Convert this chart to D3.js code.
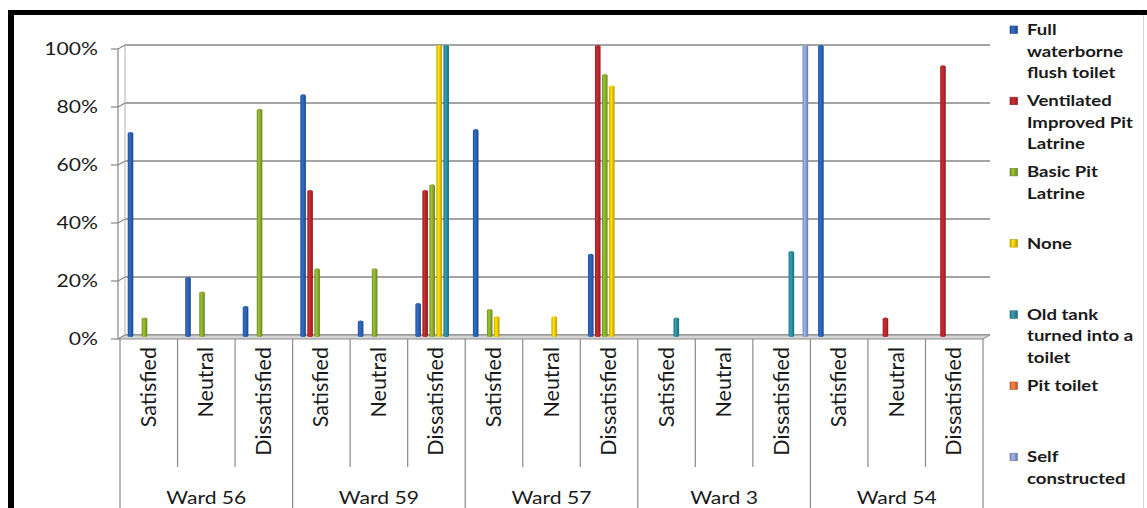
<!DOCTYPE html>
<html><head><meta charset="utf-8">
<script src="https://cdn.jsdelivr.net/npm/d3@7"></script>
<style>
html,body{margin:0;padding:0;background:#fff;}
svg{display:block;}
text{font-family:Lato,"Open Sans",sans-serif;fill:#1a1a1a;}
</style></head><body>
<svg id="c" width="1147" height="508"></svg>
<script>
// ---- data ----
const wards = ["Ward 56","Ward 59","Ward 57","Ward 3","Ward 54"];
const levels = ["Satisfied","Neutral","Dissatisfied"];
const seriesNames = ["Full waterborne flush toilet","Ventilated Improved Pit Latrine","Basic Pit Latrine","None","Old tank turned into a toilet","Pit toilet","Self constructed"];
const legendLines = [["Full","waterborne","flush toilet"],["Ventilated","Improved Pit","Latrine"],["Basic Pit","Latrine"],["None"],["Old tank","turned into a","toilet"],["Pit toilet"],["Self","constructed"]];
const seriesColors = ["#2a60b4","#b8262b","#8aad2c","#f3c900","#2a8c9f","#e8743a","#8c9fd3"];
// values (fraction) per category: 15 categories (ward x level), 7 series
const fullWaterborne = [0.70,0.20,0.10, 0.83,0.05,0.11, 0.71,0,0.28, 0,0,0, 1.00,0,0];
const vipLatrine     = [0,0,0, 0.50,0,0.50, 0,0,1.00, 0,0,0, 0,0.06,0.93];
const basicPit       = [0.06,0.15,0.78, 0.23,0.23,0.52, 0.09,0,0.90, 0,0,0, 0,0,0];
const noneToilet     = [0,0,0, 0,0,1.00, 0.065,0.065,0.86, 0,0,0, 0,0,0];
const oldTank        = [0,0,0, 0,0,1.00, 0,0,0, 0.06,0,0.29, 0,0,0];
const pitToilet      = [0,0,0, 0,0,0, 0,0,0, 0,0,0, 0,0,0];
const selfBuilt      = [0,0,0, 0,0,0, 0,0,0, 0,0,1.00, 0,0,0];
const seriesValues = [fullWaterborne,vipLatrine,basicPit,noneToilet,oldTank,pitToilet,selfBuilt];
const yTicks = [0,0.2,0.4,0.6,0.8,1.0];

// ---- layout ----
const svg = d3.select("#c");
const SX = 1.28; // horizontal stretch of the original picture's text
const cats = [];
wards.forEach(w=>levels.forEach(l=>cats.push(w+"|"+l)));
const x0 = d3.scaleBand().domain(cats).range([120,983]);
const x1 = d3.scaleBand().domain(d3.range(seriesNames.length)).range([7,56]).paddingInner(0.2).paddingOuter(0.1);
const y = d3.scaleLinear().domain([0,1]).range([335,45]);
const dx = 7, dy = 4; // 3d offset back wall vs front

const defs = svg.append("defs");
seriesColors.forEach((c,i)=>{
  const g = defs.append("linearGradient").attr("id","g"+i).attr("x1","0").attr("x2","1").attr("y1","0").attr("y2","0");
  const col = d3.color(c);
  g.append("stop").attr("offset","0").attr("stop-color",col.darker(0.6));
  g.append("stop").attr("offset","0.35").attr("stop-color",col.brighter(0.35));
  g.append("stop").attr("offset","0.6").attr("stop-color",col);
  g.append("stop").attr("offset","1").attr("stop-color",col.darker(0.8));
});

// frame
svg.append("rect").attr("x",8).attr("y",10).attr("width",1139).attr("height",5).attr("fill","#000");
svg.append("rect").attr("x",8).attr("y",10).attr("width",6).attr("height",498).attr("fill","#000");
svg.append("line").attr("x1",1143.5).attr("x2",1143.5).attr("y1",15).attr("y2",508).attr("stroke","#d8d8d8");

// gridlines on back wall
const gridG = svg.append("g");
yTicks.forEach(t=>{
  const yb = y(t);
  gridG.append("line").attr("x1",118+dx).attr("x2",990).attr("y1",yb).attr("y2",yb).attr("stroke","#868686").attr("stroke-width",1.4);
  gridG.append("line").attr("x1",118).attr("x2",118+dx).attr("y1",yb+dy).attr("y2",yb).attr("stroke","#868686").attr("stroke-width",1.2);
  gridG.append("line").attr("x1",111).attr("x2",118).attr("y1",yb+dy).attr("y2",yb+dy).attr("stroke","#868686").attr("stroke-width",1.2);
  gridG.append("text").attr("text-anchor","end").attr("font-size",16.5)
    .attr("transform",`translate(98,${yb+dy+6}) scale(${SX},1)`).attr("fill","#222").text(d3.format(".0%")(t));
});
// axis verticals
gridG.append("line").attr("x1",118).attr("x2",118).attr("y1",y(1)+dy).attr("y2",y(0)+dy).attr("stroke","#868686").attr("stroke-width",1.2);
gridG.append("line").attr("x1",118+dx).attr("x2",118+dx).attr("y1",y(1)).attr("y2",y(0)).attr("stroke","#b0b0b0").attr("stroke-width",1);

// floor
svg.append("polygon")
  .attr("points",[[118,y(0)+dy],[983,y(0)+dy],[990,y(0)],[118+dx,y(0)]].map(p=>p.join(",")).join(" "))
  .attr("fill","#d4d4d4").attr("stroke","#8a8a8a").attr("stroke-width",1);

// bars
const barData = [];
seriesValues.forEach((vals,si)=>vals.forEach((v,ci)=>{ if(v>0) barData.push({si,ci,v}); }));
svg.append("g").selectAll("rect").data(barData).join("rect")
  .attr("x",d=>x0(cats[d.ci])+x1(d.si))
  .attr("width",x1.bandwidth())
  .attr("y",d=>y(d.v))
  .attr("height",d=>y(0)+2-y(d.v))
  .attr("rx",2.6).attr("ry",1.6)
  .attr("fill",d=>`url(#g${d.si})`);

// category separators
const sepG = svg.append("g").attr("stroke","#8a8a8a").attr("stroke-width",1.2);
cats.forEach((c,i)=>{
  const xs = x0(c);
  sepG.append("line").attr("x1",xs).attr("x2",xs).attr("y1",y(0)+dy).attr("y2", i%3===0?508:467);
});
sepG.append("line").attr("x1",x0.range()[1]).attr("x2",x0.range()[1]).attr("y1",y(0)+dy).attr("y2",508);

// level labels (rotated)
svg.append("g").selectAll("text").data(cats).join("text")
  .attr("transform",c=>`translate(${x0(c)+x0.bandwidth()/2+7},${y(0)+dy+8}) rotate(-90)`)
  .attr("text-anchor","end").attr("font-size",21.5).attr("fill","#222")
  .text(c=>c.split("|")[1]);

// ward labels
svg.append("g").selectAll("text").data(wards).join("text")
  .attr("transform",(w,i)=>{const a=x0(w+"|"+levels[0]), b=x0(w+"|"+levels[2])+x0.bandwidth(); return `translate(${(a+b)/2},504) scale(${SX},1)`;})
  .attr("text-anchor","middle").attr("font-size",16.5).attr("fill","#222").text(w=>w);

// legend
const lg = svg.append("g");
legendLines.forEach((lines,i)=>{
  const yy = 30 + i*71.2;
  lg.append("rect").attr("x",1010).attr("y",yy-4).attr("width",7.5).attr("height",7.5).attr("fill",`url(#g${i})`).attr("stroke",d3.color(seriesColors[i]).darker(0.8)).attr("stroke-width",0.6);
  lines.forEach((ln,j)=>{
    lg.append("text").attr("transform",`translate(1027,${yy+5+j*21.5}) scale(${SX},1)`)
      .attr("font-size",14.5).attr("font-weight","bold").attr("fill","#222").text(ln);
  });
});
</script></body></html>
